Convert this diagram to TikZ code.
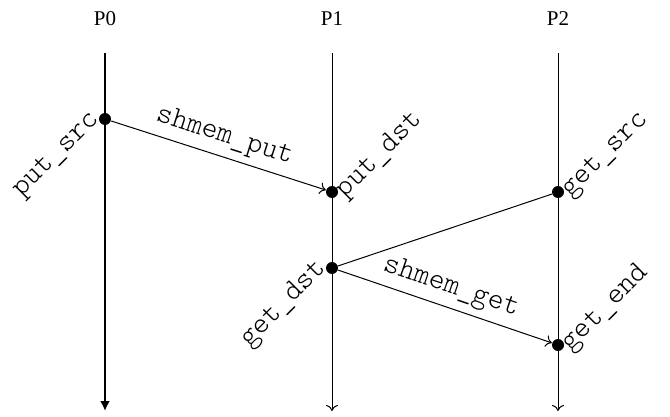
\documentclass[tikz,border=0pt]{standalone}
\usepackage{fontspec}
\setmainfont{Liberation Serif}
\setmonofont{Latin Modern Mono Light}
\usetikzlibrary{arrows.meta, positioning, calc}

\begin{document}
\begin{tikzpicture}[x=0.5pt, y=-0.5pt, line width=0.5pt,
    dot/.style={circle, fill=black, inner sep=0pt, minimum size=6pt},
    msg/.style={-{To[length=3pt, width=6pt]}},
    code/.style={font=\fontsize{15}{17}\selectfont\ttfamily},
    lbl/.style={code, rotate=45, inner sep=2pt},
    proc/.style={font=\fontsize{10.5}{12}\selectfont}]
    \useasboundingbox (0,0) rectangle (670,417);

    % Process names and time lines
    \foreach \n/\x in {0/105, 1/332, 2/558} {
        \node[proc] (p\n) at (\x, 19) {P\n};
        \coordinate (top\n) at (\x, 53);
        \coordinate (end\n) at (\x, 411);
    }
    \draw[line width=1pt, -{Latex[length=5pt, width=5pt]}] (top0) -- (end0);
    \draw[msg] (top1) -- (end1);
    \draw[msg] (top2) -- (end2);

    % Events
    \node[dot] (putsrc) at (105, 119) {};
    \node[dot] (putdst) at (332, 192) {};
    \node[dot] (getsrc) at (558, 192) {};
    \node[dot] (getdst) at (332, 268) {};
    \node[dot] (getend) at (558, 345) {};

    % Event names
    \node[lbl, anchor=east] (putsrcl) at ($(putsrc)+(-5.7,-5.7)$) {put\_src};
    \node[lbl, anchor=west] (putdstl) at ($(putdst)+(5.7,5.7)$) {put\_dst};
    \node[lbl, anchor=west] (getsrcl) at ($(getsrc)+(5.7,5.7)$) {get\_src};
    \node[lbl, anchor=east] (getdstl) at ($(getdst)+(-5.7,-5.7)$) {get\_dst};
    \node[lbl, anchor=west] (getendl) at ($(getend)+(5.7,5.7)$) {get\_end};

    % Messages
    \draw[msg] (putsrc) -- node[code, sloped, above] {shmem\_put} (putdst);
    \draw (getdst) -- (getsrc);
    \draw[msg] (getdst) -- node[code, sloped, above] {shmem\_get} (getend);
\end{tikzpicture}
\end{document}
